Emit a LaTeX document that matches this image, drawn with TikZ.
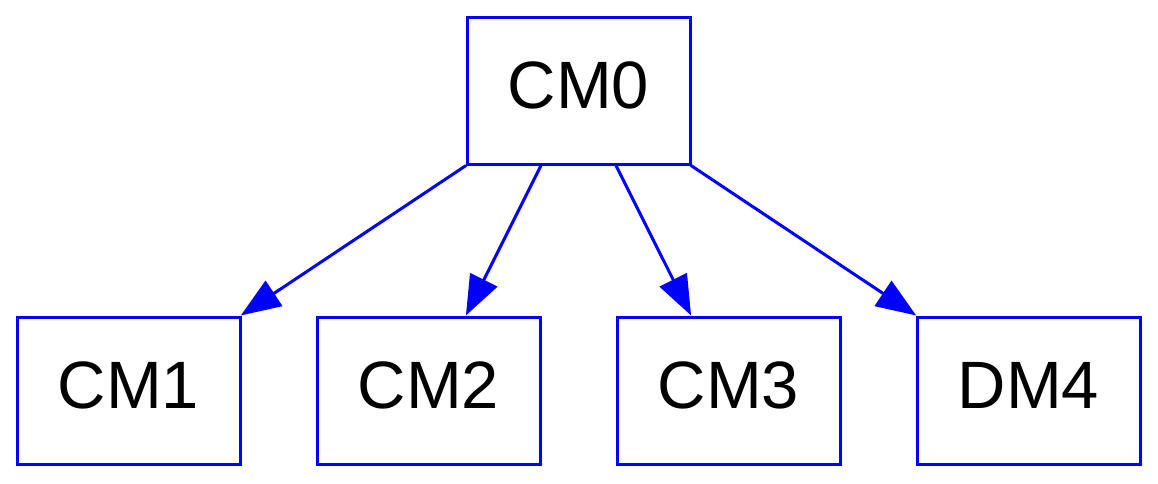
\documentclass[tikz,border=0pt]{standalone}
\usepackage{fontspec}
\setmainfont{Liberation Sans}
\usetikzlibrary{arrows.meta}
\begin{document}
\begin{tikzpicture}[x=1pt,y=-1pt,
  box/.style={draw=blue, line width=3pt, rectangle, inner sep=0pt,
    minimum width=223pt, minimum height=147pt,
    text height=50pt, text depth=14pt,
    font=\fontsize{67}{80}\selectfont, text=black},
  edge/.style={draw=blue, line width=3pt,
    -{Triangle[length=40pt,width=30pt,fill=blue]}}]
  \useasboundingbox (0,0) rectangle (1158,483);
  \node[box] (cm0) at (578.5,90.5) {CM0};
  \node[box] (cm1) at (128.5,390.5) {CM1};
  \node[box] (cm2) at (428.5,390.5) {CM2};
  \node[box] (cm3) at (728.5,390.5) {CM3};
  \node[box] (dm4) at (1028.5,390.5) {DM4};
  \draw[edge] (cm0) -- (cm1);
  \draw[edge] (cm0) -- (cm2);
  \draw[edge] (cm0) -- (cm3);
  \draw[edge] (cm0) -- (dm4);
\end{tikzpicture}
\end{document}
